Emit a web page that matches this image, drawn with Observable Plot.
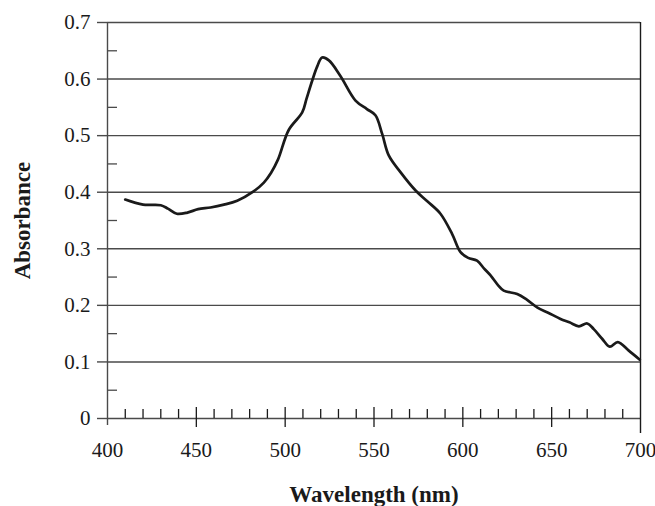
<!DOCTYPE html>
<html>
<head>
<meta charset="utf-8">
<script src="https://cdn.jsdelivr.net/npm/d3@7"></script>
<script src="https://cdn.jsdelivr.net/npm/@observablehq/plot@0.6"></script>
<style>
  html, body { margin: 0; padding: 0; background: #fff; }
</style>
</head>
<body>
<div id="chart"></div>
<script>
// Data
const wavelength = [410, 420, 430, 434, 439, 445, 451, 458, 465.5, 473, 482, 488, 492, 496, 502, 509.6, 512, 515.2, 518, 520.8, 524.6, 531, 539.6, 546, 550.8, 554.6, 558.3, 565, 573.4, 580, 587.4, 594, 598.7, 603, 608, 612, 615.6, 620, 623, 630.6, 636, 642, 648, 655, 660, 665.3, 670, 673.7, 678.4, 682.7, 687.2, 693.4, 699.6];
const absorbance = [0.387, 0.378, 0.377, 0.371, 0.362, 0.364, 0.370, 0.373, 0.378, 0.385, 0.401, 0.417, 0.434, 0.458, 0.510, 0.541, 0.565, 0.597, 0.622, 0.638, 0.633, 0.606, 0.562, 0.547, 0.536, 0.503, 0.465, 0.435, 0.403, 0.384, 0.362, 0.326, 0.294, 0.284, 0.279, 0.265, 0.253, 0.235, 0.226, 0.220, 0.210, 0.196, 0.187, 0.176, 0.170, 0.163, 0.168, 0.158, 0.141, 0.127, 0.135, 0.120, 0.104];

const xMajor = [400, 450, 500, 550, 600, 650, 700];
const xMinor = [410, 420, 430, 440, 460, 470, 480, 490, 510, 520, 530, 540, 560, 570, 580, 590, 610, 620, 630, 640, 660, 670, 680, 690];
const yMajor = [0, 0.1, 0.2, 0.3, 0.4, 0.5, 0.6, 0.7];
const yMinor = [0.05, 0.15, 0.25, 0.35, 0.45, 0.55, 0.65];
const yTickLabels = ["0", "0.1", "0.2", "0.3", "0.4", "0.5", "0.6", "0.7"];
const xTitle = "Wavelength (nm)";
const yTitle = "Absorbance";

const data = wavelength.map((w, i) => ({w, a: absorbance[i]}));

const W = 655, H = 506;
const mL = 107, mR = 15, mT = 22, mB = 88;
const frameW = W - mL - mR, frameH = H - mT - mB;
const font = "'Liberation Serif', 'DejaVu Serif', serif";
const ink = "#1a1a1a";
const grid = "#4a4a4a";

const chart = Plot.plot({
  width: W,
  height: H,
  marginLeft: mL,
  marginRight: mR,
  marginTop: mT,
  marginBottom: mB,
  style: {fontFamily: font, fontSize: "21px", color: ink, background: "#fff"},
  x: {domain: [400, 700]},
  y: {domain: [0, 0.7]},
  marks: [
    Plot.ruleY(yMajor, {stroke: grid, strokeWidth: 1.4}),
    Plot.ruleX([400], {stroke: grid, strokeWidth: 1.4, insetBottom: -7}),
    Plot.ruleX([700], {stroke: ink, strokeWidth: 1.4, insetBottom: -15}),
    Plot.tickY(yMinor, {stroke: grid, strokeWidth: 1.3, insetRight: frameW - 10}),
    Plot.tickX(xMinor, {stroke: ink, strokeWidth: 1.3, insetTop: frameH - 9}),
    Plot.tickX(xMajor.filter(d => d > 400 && d < 700), {stroke: ink, strokeWidth: 1.3, insetTop: frameH - 11, insetBottom: -9}),
    Plot.axisY({
      ticks: yMajor, tickSize: 10, tickPadding: 7, stroke: grid, strokeWidth: 1.4,
      tickFormat: d => yTickLabels[yMajor.indexOf(d)], fontSize: 21, label: null
    }),
    Plot.axisX({ticks: xMajor, tickSize: 0, tickPadding: 24, tickFormat: d => String(d), fontSize: 21, label: null}),
    Plot.text([yTitle], {frameAnchor: "left", dx: -85, rotate: -90, fontSize: 23, fontWeight: "bold", fill: ink, textAnchor: "middle", lineAnchor: "middle"}),
    Plot.text([xTitle], {frameAnchor: "bottom", dy: 76, fontSize: 23, fontWeight: "bold", fill: ink, textAnchor: "middle", lineAnchor: "middle"}),
    Plot.line(data, {x: "w", y: "a", stroke: ink, strokeWidth: 2.7, curve: "catmull-rom"})
  ]
});
document.getElementById("chart").append(chart);
</script>
</body>
</html>
